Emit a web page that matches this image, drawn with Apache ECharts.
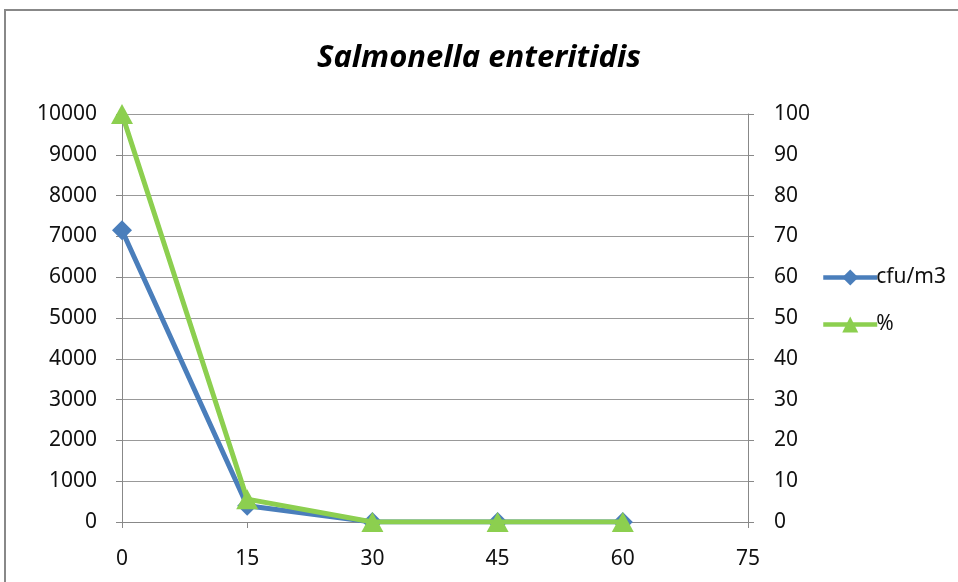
<!DOCTYPE html>
<html><head><meta charset="utf-8">
<script src="https://cdn.jsdelivr.net/npm/echarts@6/dist/echarts.min.js"></script>
<style>html,body{margin:0;padding:0;background:#fff}#c{width:958px;height:582px}</style>
</head><body><div id="c"></div>
<script>
const xValues = [0, 15, 30, 45, 60];
const cfuValues = [7150, 400, 0, 0, 0];
const pctValues = [100, 5.6, 0, 0, 0];
const titleText = 'Salmonella enteritidis';
const seriesNames = ['cfu/m3', '%'];

const chart = echarts.init(document.getElementById('c'));
const font = 'Noto Sans';
const lbl = {color:'#111', fontSize:21, fontFamily:font};
chart.setOption({
  animation:false,
  title:{text:titleText, left:'center', top:38, textStyle:{fontSize:31, fontStyle:'italic', fontWeight:'bold', fontFamily:font, color:'#000'}},
  legend:{orient:'vertical', left:816, top:262, itemGap:26, itemWidth:54, itemHeight:20,
    lineStyle:{width:4.5},
    textStyle:{fontSize:21, fontFamily:font, color:'#111', padding:[0,0,0,-6]}, data:seriesNames},
  grid:{left:122, right:210, top:114, bottom:60},
  xAxis:{type:'value', min:0, max:75, interval:15,
    axisLine:{lineStyle:{color:'#888', width:1}}, axisTick:{show:true, length:6, lineStyle:{color:'#888'}},
    splitLine:{show:false}, axisLabel:Object.assign({margin:27}, lbl)},
  yAxis:[
    {type:'value', min:0, max:10000, interval:1000, position:'left',
     axisLine:{show:true, lineStyle:{color:'#888'}}, axisTick:{show:true, length:6, lineStyle:{color:'#888'}},
     splitLine:{lineStyle:{color:'#999', width:1}}, axisLabel:Object.assign({margin:25, formatter:v=>String(v)}, lbl)},
    {type:'value', min:0, max:100, interval:10, position:'right',
     axisLine:{show:true, lineStyle:{color:'#888'}}, axisTick:{show:true, length:6, lineStyle:{color:'#888'}},
     splitLine:{show:false}, axisLabel:Object.assign({margin:26}, lbl)}
  ],
  graphic:[{type:'rect', shape:{x:5, y:10, width:1200, height:1200}, style:{fill:'none', stroke:'#888', lineWidth:2}, silent:true}],
  series:[
    {name:seriesNames[0], type:'line', yAxisIndex:0, data:xValues.map((x,i)=>[x,cfuValues[i]]),
     symbol:'diamond', symbolSize:20, lineStyle:{width:5, color:'#4a7ebb'}, itemStyle:{color:'#4a7ebb'}, z:2},
    {name:seriesNames[1], type:'line', yAxisIndex:1, data:xValues.map((x,i)=>[x,pctValues[i]]),
     symbol:'triangle', symbolSize:[22,20], lineStyle:{width:5, color:'#8ccf4f'}, itemStyle:{color:'#8ccf4f'}, z:3}
  ]
});
</script></body></html>
